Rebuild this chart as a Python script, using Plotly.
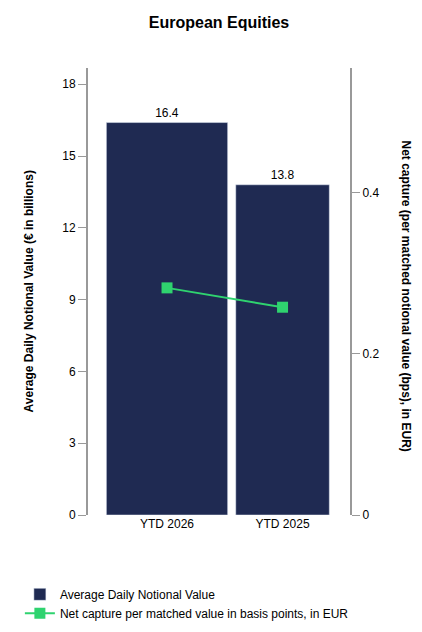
import plotly.graph_objects as go

categories = ["YTD 2026", "YTD 2025"]
adnv = [16.4, 13.8]
net_capture = [0.282, 0.258]

bar_color = "#1f2a52"
line_color = "#2fd36f"

fig = go.Figure()
fig.add_trace(go.Bar(x=categories, y=adnv, name="Average Daily Notional Value",
                     marker_color=bar_color, text=[f"{v:.1f}" for v in adnv],
                     textposition="outside", textfont=dict(size=12, color="black"),
                     width=[1.05, 0.81], cliponaxis=False))
fig.add_trace(go.Scatter(x=categories, y=net_capture, yaxis="y2", mode="lines+markers",
                         name="Net capture per matched value in basis points, in EUR",
                         line=dict(color=line_color, width=2),
                         marker=dict(symbol="square", size=11, color=line_color)))

fig.update_layout(
    width=422, height=632,
    font=dict(family="Liberation Sans, Arial", size=12, color="black"),
    title=dict(text="<b>European Equities</b>", x=0.5, xanchor="center",
               yref="container", y=0.977, yanchor="middle", font=dict(size=16)),
    paper_bgcolor="white", plot_bgcolor="white",
    margin=dict(l=80, r=80, t=60, b=120),
    showlegend=True,
    legend=dict(x=-0.26, y=-0.145, xanchor="left", yanchor="top", font=dict(size=12)),
    xaxis=dict(showline=False, ticks="", tickfont=dict(size=12), range=[-0.684, 1.584],
               automargin=False),
    yaxis=dict(range=[0, 18.68], tickvals=[0, 3, 6, 9, 12, 15, 18], showgrid=False,
               showline=True, linecolor="#999", linewidth=2, ticks="outside",
               tickcolor="#999", ticklen=8, zeroline=False, automargin=False),
    yaxis2=dict(range=[0, 0.555], tickvals=[0, 0.2, 0.4], ticktext=["0", "0.2", "0.4"],
                overlaying="y", side="right", showgrid=False, showline=True,
                linecolor="#999", linewidth=2, ticks="outside", tickcolor="#999", ticklen=8,
                zeroline=False, automargin=False),
    annotations=[
        dict(text="<b>Average Daily Notional Value (€ in billions)</b>", xref="paper", yref="paper",
             x=-0.26, y=0.5, textangle=-90, showarrow=False, font=dict(size=12)),
        dict(text="<b>Net capture (per matched notional value (bps), in EUR)</b>", xref="paper",
             yref="paper", x=1.25, y=0.49, textangle=90, showarrow=False, font=dict(size=12)),
    ],
)

fig.write_html("out.html")
